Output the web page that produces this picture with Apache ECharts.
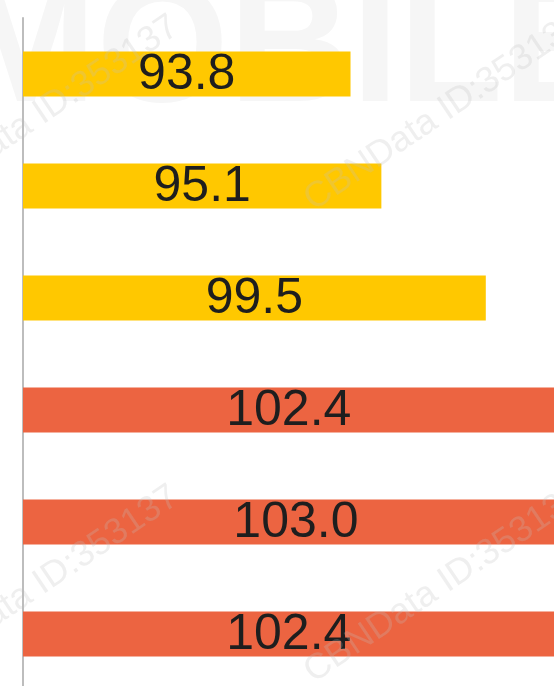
<!DOCTYPE html>
<html>
<head>
<meta charset="utf-8">
<script src="https://cdn.jsdelivr.net/npm/echarts@6/dist/echarts.min.js"></script>
<style>
html,body{margin:0;padding:0;background:#fff;}
#main{width:554px;height:686px;}
</style>
</head>
<body>
<div id="main"></div>
<script>
var categories = ['1', '2', '3', '4', '5', '6'];
var values = [93.8, 95.1, 99.5, 102.4, 103.0, 102.4];
var watermarkText = 'CBNData ID:353137';
var bigWatermark = 'MOBILE';

var YELLOW = '#FFC800';
var RED = '#EC6441';

var chart = echarts.init(document.getElementById('main'), null, {renderer: 'canvas'});

var wmPositions = [[-87, 222], [318, 218], [-87, 692], [318, 690]];
var graphics = [{
  type: 'text', x: -45, y: 139, z: -10, silent: true,
  style: { text: bigWatermark, font: 'bold 170px "Liberation Sans", Arial, sans-serif', fill: '#f6f6f6',
           textAlign: 'left', textVerticalAlign: 'bottom' }
}];
wmPositions.forEach(function (p) {
  graphics.push({
    type: 'text', x: p[0], y: p[1], rotation: 34 * Math.PI / 180, z: 100, silent: true,
    style: {
      text: watermarkText, font: '36px "Liberation Sans", Arial, sans-serif',
      fill: 'rgba(190,190,190,0.25)', textAlign: 'left', textVerticalAlign: 'bottom'
    }
  });
});

chart.setOption({
  animation: false,
  backgroundColor: '#fff',
  graphic: graphics,
  grid: { left: 23, top: 18, width: 712, height: 672, containLabel: false, outerBoundsMode: 'none' },
  xAxis: {
    type: 'value', min: 80, max: 110, show: false
  },
  yAxis: {
    type: 'category', data: categories, inverse: true,
    axisLine: { show: true, lineStyle: { color: '#bdbdbd', width: 2 } },
    axisTick: { show: false }, axisLabel: { show: false }, splitLine: { show: false }
  },
  series: [{
    type: 'bar',
    data: values,
    barWidth: 45,
    itemStyle: {
      color: function (p) { return p.value >= 100 ? RED : YELLOW; }
    },
    label: {
      show: true, position: 'inside',
      formatter: function (p) { return p.value.toFixed(1); },
      fontFamily: '"Liberation Sans", Arial, sans-serif',
      fontSize: 50, color: '#1e1e1e', offset: [0, 1]
    }
  }]
});
</script>
</body>
</html>
